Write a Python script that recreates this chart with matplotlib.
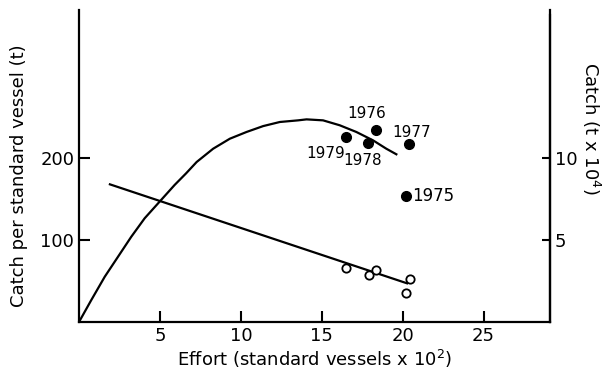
import matplotlib
matplotlib.use("Agg")
import matplotlib.pyplot as plt

# catch curve, effort x10^2 vs catch t x10^4
curve_effort = [0, 0.76, 1.59, 2.41, 3.23, 4.06, 4.98, 5.91, 6.62, 7.27, 8.29, 9.32, 10.35,
                11.38, 12.41, 13.54, 14.06, 15.08, 16.11, 17.14, 18.17, 18.99, 19.61]
curve_catch = [0, 1.34, 2.76, 3.98, 5.20, 6.33, 7.34, 8.36, 9.07, 9.76, 10.57, 11.18, 11.59,
               11.95, 12.20, 12.30, 12.36, 12.30, 12.00, 11.59, 11.08, 10.57, 10.23]

# observed catch per year
years = ['1979', '1976', '1978', '1977', '1975']
catch_effort = [16.48, 18.38, 17.86, 20.37, 20.19]
catch_obs = [11.27, 11.71, 10.90, 10.86, 7.69]

# catch per standard vessel (open circles) and fitted line
cpue_effort = [16.48, 17.9, 18.33, 20.43, 20.23]
cpue_obs = [65.5, 57.3, 63.4, 52.0, 35.7]
line_effort = [1.91, 20.27]
line_cpue = [167.9, 47.2]

fig = plt.figure(figsize=(6.03, 3.75), dpi=100)
ax = fig.add_axes([0.131, 0.1413, 0.781, 0.832])
ax2 = ax.twinx()

ax.plot(line_effort, line_cpue, color='black', lw=1.6)
ax.plot(cpue_effort, cpue_obs, 'o', mfc='white', mec='black', mew=1.3, ms=6)

ax2.plot(curve_effort, curve_catch, color='black', lw=1.6)
ax2.plot(catch_effort, catch_obs, 'o', color='black', ms=7)

# year labels
ax2.text(17.76, 12.69, '1976', fontsize=11, ha='center', va='center')
ax2.text(20.54, 11.57, '1977', fontsize=11, ha='center', va='center')
ax2.text(15.25, 10.29, '1979', fontsize=11, ha='center', va='center')
ax2.text(17.55, 9.88, '1978', fontsize=11, ha='center', va='center')
ax2.text(20.6, 7.69, '1975', fontsize=12, ha='left', va='center')

ax.set_xlim(0, 29.1)
ax.set_ylim(0, 380.5)
ax2.set_ylim(0, 19.03)

ax.set_xticks([5, 10, 15, 20, 25])
ax.set_yticks([100, 200])
ax2.set_yticks([5, 10])

for a in (ax, ax2):
    a.spines['top'].set_visible(False)
    for s in a.spines.values():
        s.set_linewidth(1.6)
ax2.spines['left'].set_visible(False)
ax2.spines['bottom'].set_visible(False)
ax2.spines['right'].set_bounds(0, 18.7)

ax.tick_params(axis='both', direction='in', length=8, width=1.5, labelsize=13)
ax2.tick_params(axis='y', direction='in', length=6, width=1.5, labelsize=13)

ax.set_xlabel('Effort (standard vessels x 10$^2$)', fontsize=13, labelpad=2)
ax.set_ylabel('Catch per standard vessel (t)', fontsize=13)
ax.yaxis.set_label_coords(-0.108, 0.468)
fig.text(591 / 603, 1 - 128 / 375, 'Catch (t x 10$^4$)', fontsize=13,
         rotation=-90, ha='center', va='center')

fig.savefig('out.png', dpi=100)
